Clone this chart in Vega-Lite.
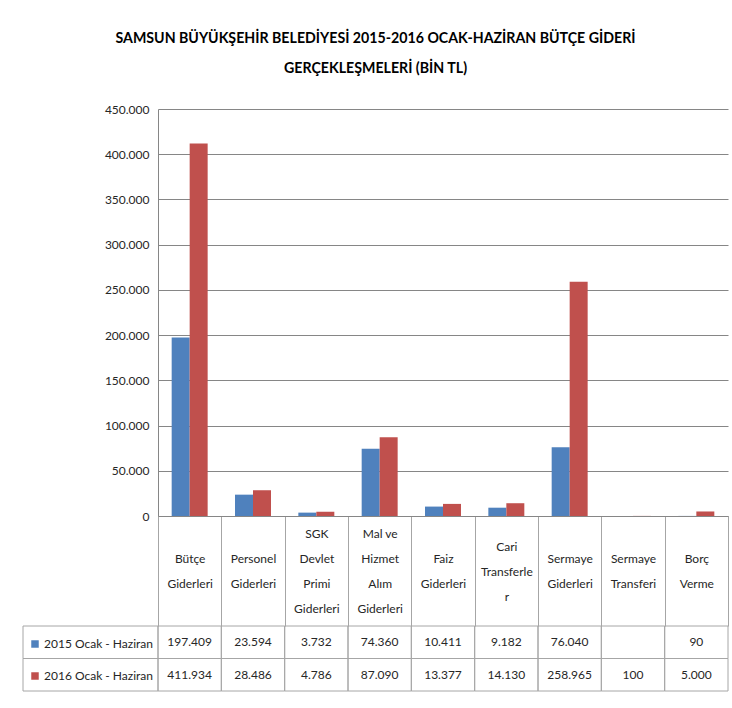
{
  "$schema": "https://vega.github.io/schema/vega-lite/v6.json",
  "padding": {"left": 22, "top": 31, "right": 5, "bottom": 5},
  "title": {
    "text": ["SAMSUN BÜYÜKŞEHİR BELEDİYESİ 2015-2016 OCAK-HAZİRAN BÜTÇE GİDERİ", "GERÇEKLEŞMELERİ (BİN TL)"],
    "fontSize": 14.2,
    "fontWeight": "bold",
    "lineHeight": 30,
    "anchor": "middle",
    "color": "#000000",
    "offset": 27
  },
  "data": {
    "values": [
      {"cat": "Bütçe|Giderleri", "series": "2015 Ocak - Haziran", "value": 197409},
      {"cat": "Personel|Giderleri", "series": "2015 Ocak - Haziran", "value": 23594},
      {"cat": "SGK|Devlet|Primi|Giderleri", "series": "2015 Ocak - Haziran", "value": 3732},
      {"cat": "Mal ve|Hizmet|Alım|Giderleri", "series": "2015 Ocak - Haziran", "value": 74360},
      {"cat": "Faiz|Giderleri", "series": "2015 Ocak - Haziran", "value": 10411},
      {"cat": "Cari|Transferle|r", "series": "2015 Ocak - Haziran", "value": 9182},
      {"cat": "Sermaye|Giderleri", "series": "2015 Ocak - Haziran", "value": 76040},
      {"cat": "Sermaye|Transferi", "series": "2015 Ocak - Haziran", "value": null},
      {"cat": "Borç|Verme", "series": "2015 Ocak - Haziran", "value": 90},
      {"cat": "Bütçe|Giderleri", "series": "2016 Ocak - Haziran", "value": 411934},
      {"cat": "Personel|Giderleri", "series": "2016 Ocak - Haziran", "value": 28486},
      {"cat": "SGK|Devlet|Primi|Giderleri", "series": "2016 Ocak - Haziran", "value": 4786},
      {"cat": "Mal ve|Hizmet|Alım|Giderleri", "series": "2016 Ocak - Haziran", "value": 87090},
      {"cat": "Faiz|Giderleri", "series": "2016 Ocak - Haziran", "value": 13377},
      {"cat": "Cari|Transferle|r", "series": "2016 Ocak - Haziran", "value": 14130},
      {"cat": "Sermaye|Giderleri", "series": "2016 Ocak - Haziran", "value": 258965},
      {"cat": "Sermaye|Transferi", "series": "2016 Ocak - Haziran", "value": 100},
      {"cat": "Borç|Verme", "series": "2016 Ocak - Haziran", "value": 5000}
    ]
  },
  "columns": 2,
  "spacing": {"row": 110, "column": 0},
  "bounds": "flush",
  "align": "each",
  "concat": [
    {
      "width": 135,
      "height": 407,
      "transform": [{"filter": "false"}],
      "mark": {"type": "text"},
      "encoding": {}
    },
    {
      "width": 570,
      "height": 407,
      "mark": {"type": "bar"},
      "encoding": {
        "x": {
          "field": "cat",
          "type": "nominal",
          "sort": ["Bütçe|Giderleri", "Personel|Giderleri", "SGK|Devlet|Primi|Giderleri", "Mal ve|Hizmet|Alım|Giderleri", "Faiz|Giderleri", "Cari|Transferle|r", "Sermaye|Giderleri", "Sermaye|Transferi", "Borç|Verme"],
          "scale": {"paddingInner": 0, "paddingOuter": 0},
          "axis": {
            "title": null,
            "labelExpr": "split(datum.label, '|')",
            "labelAngle": 0,
            "tickBand": "extent",
            "tickSize": 110,
            "tickColor": "#A6A6A6",
            "domainColor": "#868686",
            "labelPadding": {
              "condition": [
                {"test": "length(split(datum.label, '|')) === 4", "value": -92.5},
                {"test": "length(split(datum.label, '|')) === 3", "value": -80}
              ],
              "value": -67.5
            },
            "labelBaseline": "middle",
            "labelFontSize": 12,
            "labelLineHeight": 25,
            "labelColor": "#262626"
          }
        },
        "xOffset": {
          "field": "series",
          "type": "nominal",
          "sort": null,
          "scale": {"paddingOuter": 0.76, "paddingInner": 0}
        },
        "y": {
          "field": "value",
          "type": "quantitative",
          "scale": {"domain": [0, 450000], "nice": false},
          "axis": {
            "title": null,
            "tickCount": 9,
            "format": ",d",
            "grid": true,
            "gridColor": "#868686",
            "domainColor": "#868686",
            "ticks": false,
            "labelPadding": 9,
            "labelFontSize": 12,
            "labelColor": "#262626"
          }
        },
        "color": {
          "field": "series",
          "type": "nominal",
          "scale": {"domain": ["2015 Ocak - Haziran", "2016 Ocak - Haziran"], "range": ["#4F81BD", "#C0504D"]},
          "legend": {
            "orient": "none",
            "legendX": 6,
            "legendY": 529,
            "title": null,
            "symbolType": "square",
            "symbolSize": 56,
            "symbolStrokeWidth": 0,
            "labelFontSize": 12,
            "labelColor": "#262626",
            "rowPadding": 20,
            "labelOffset": 3
          }
        }
      }
    },
    {
      "width": 135,
      "height": 65,
      "transform": [{"aggregate": [{"op": "count", "as": "n"}], "groupby": ["series"]}],
      "mark": {"type": "rect", "fillOpacity": 0, "stroke": "#A6A6A6", "strokeWidth": 1},
      "encoding": {
        "y": {"field": "series", "type": "nominal", "sort": null, "scale": {"paddingInner": 0, "paddingOuter": 0}, "axis": null}
      }
    },
    {
      "width": 570,
      "height": 65,
      "layer": [
        {
          "mark": {"type": "rect", "fillOpacity": 0, "stroke": "#A6A6A6", "strokeWidth": 1},
          "encoding": {
            "x": {"field": "cat", "type": "nominal", "sort": ["Bütçe|Giderleri", "Personel|Giderleri", "SGK|Devlet|Primi|Giderleri", "Mal ve|Hizmet|Alım|Giderleri", "Faiz|Giderleri", "Cari|Transferle|r", "Sermaye|Giderleri", "Sermaye|Transferi", "Borç|Verme"], "scale": {"paddingInner": 0, "paddingOuter": 0}, "axis": null},
            "y": {"field": "series", "type": "nominal", "sort": null, "scale": {"paddingInner": 0, "paddingOuter": 0}, "axis": null}
          }
        },
        {
          "transform": [{"filter": "isValid(datum.value)"}],
          "mark": {"type": "text", "fontSize": 12, "color": "#262626", "baseline": "middle"},
          "encoding": {
            "x": {"field": "cat", "type": "nominal", "sort": ["Bütçe|Giderleri", "Personel|Giderleri", "SGK|Devlet|Primi|Giderleri", "Mal ve|Hizmet|Alım|Giderleri", "Faiz|Giderleri", "Cari|Transferle|r", "Sermaye|Giderleri", "Sermaye|Transferi", "Borç|Verme"], "axis": null},
            "y": {"field": "series", "type": "nominal", "sort": null, "axis": null},
            "text": {"field": "value", "type": "quantitative", "format": ",d"}
          }
        }
      ]
    }
  ],
  "config": {
    "font": "Lato",
    "view": {"stroke": null},
    "locale": {"number": {"decimal": ",", "thousands": ".", "grouping": [3], "currency": ["", ""]}}
  }
}
